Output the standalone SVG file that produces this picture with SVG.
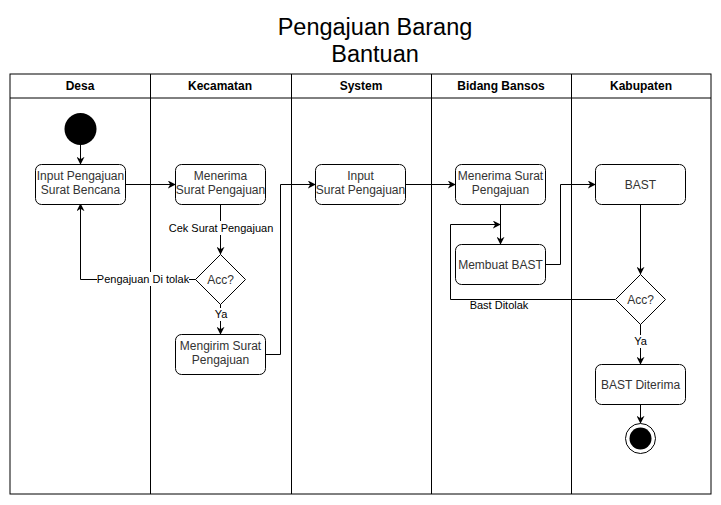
<svg xmlns="http://www.w3.org/2000/svg" width="721" height="505" viewBox="0 0 721 505">
<style>
.t{font-family:"Liberation Sans",Arial,sans-serif;fill:#000}
.title{font-size:23.5px;text-anchor:middle}
.hd{font-size:12px;font-weight:bold;text-anchor:middle}
.nt{font-size:12px;text-anchor:middle;fill:#333}
.lb{font-size:11px;text-anchor:middle}
.box{fill:#fff;stroke:#000;stroke-width:1}
.ln{fill:none;stroke:#000;stroke-width:1}
.c{fill:none;stroke:#000;stroke-width:1}
.bg{fill:#fff}
</style>
<defs>
<marker id="a" viewBox="0 0 10 10" refX="9" refY="5" markerWidth="8" markerHeight="8" markerUnits="userSpaceOnUse" orient="auto">
<path d="M0,0 L10,5 L0,10 L3,5 Z" fill="#000"/>
</marker>
</defs>
<rect width="721" height="505" fill="#fff"/>
<g id="title">
<text class="t title" x="375" y="35">Pengajuan Barang</text>
<text class="t title" x="375" y="62">Bantuan</text>
</g>
<g id="pool">
<rect class="ln" x="10" y="74" width="701" height="420"/>
<line class="ln" x1="10" y1="98" x2="711" y2="98"/>
<line class="ln" x1="150.5" y1="74" x2="150.5" y2="494"/>
<line class="ln" x1="291.5" y1="74" x2="291.5" y2="494"/>
<line class="ln" x1="431.5" y1="74" x2="431.5" y2="494"/>
<line class="ln" x1="571.5" y1="74" x2="571.5" y2="494"/>
<text class="t hd" x="80" y="90">Desa</text>
<text class="t hd" x="220" y="90">Kecamatan</text>
<text class="t hd" x="361" y="90">System</text>
<text class="t hd" x="501" y="90">Bidang Bansos</text>
<text class="t hd" x="641" y="90">Kabupaten</text>
</g>
<g id="connectors">
<path class="c" d="M80.5,145 L80.5,164" marker-end="url(#a)"/>
<path class="c" d="M125,184.5 L175,184.5" marker-end="url(#a)"/>
<path class="c" d="M220.5,204 L220.5,254" marker-end="url(#a)"/>
<path class="c" d="M220.5,304 L220.5,334" marker-end="url(#a)"/>
<path class="c" d="M196,279.5 L80.5,279.5 L80.5,204" marker-end="url(#a)"/>
<path class="c" d="M265,354.5 L280.5,354.5 L280.5,184.5 L315,184.5" marker-end="url(#a)"/>
<path class="c" d="M405,184.5 L455,184.5" marker-end="url(#a)"/>
<path class="c" d="M500.5,204 L500.5,244" marker-end="url(#a)"/>
<path class="c" d="M545,264.5 L560.5,264.5 L560.5,184.5 L595,184.5" marker-end="url(#a)"/>
<path class="c" d="M640.5,204 L640.5,274" marker-end="url(#a)"/>
<path class="c" d="M615,299.5 L450.5,299.5 L450.5,224.5 L500,224.5" marker-end="url(#a)"/>
<path class="c" d="M640.5,324 L640.5,364" marker-end="url(#a)"/>
<path class="c" d="M640.5,404 L640.5,423" marker-end="url(#a)"/>
<rect class="bg" x="169" y="221" width="104" height="14"/>
<text class="t lb" x="221" y="232">Cek Surat Pengajuan</text>
<rect class="bg" x="97" y="272" width="92" height="14"/>
<text class="t lb" x="143" y="283">Pengajuan Di tolak</text>
<rect class="bg" x="212" y="308" width="18" height="13"/>
<text class="t lb" x="221" y="318">Ya</text>
<rect class="bg" x="469" y="300" width="61" height="12"/>
<text class="t lb" x="499" y="309">Bast Ditolak</text>
<rect class="bg" x="632" y="335" width="18" height="13"/>
<text class="t lb" x="640.5" y="345">Ya</text>
</g>
<g id="start"><circle cx="80.5" cy="129" r="16" fill="#000"/></g>
<g id="input-pengajuan">
<rect class="box" x="35.5" y="164.5" width="90" height="40" rx="6"/>
<text class="t nt" x="80.5" y="180">Input Pengajuan</text>
<text class="t nt" x="80.5" y="194">Surat Bencana</text>
</g>
<g id="menerima-kec">
<rect class="box" x="175.5" y="164.5" width="90" height="40" rx="6"/>
<text class="t nt" x="220.5" y="180">Menerima</text>
<text class="t nt" x="220.5" y="194">Surat Pengajuan</text>
</g>
<g id="acc-kec">
<path class="box" d="M220.5,254.5 L245.5,279.5 L220.5,304.5 L195.5,279.5 Z"/>
<text class="t nt" x="220.5" y="284">Acc?</text>
</g>
<g id="mengirim">
<rect class="box" x="175.5" y="334.5" width="90" height="40" rx="6"/>
<text class="t nt" x="220.5" y="350">Mengirim Surat</text>
<text class="t nt" x="220.5" y="364">Pengajuan</text>
</g>
<g id="input-system">
<rect class="box" x="315.5" y="164.5" width="90" height="40" rx="6"/>
<text class="t nt" x="360.5" y="180">Input</text>
<text class="t nt" x="360.5" y="194">Surat Pengajuan</text>
</g>
<g id="menerima-bidang">
<rect class="box" x="455.5" y="164.5" width="90" height="40" rx="6"/>
<text class="t nt" x="500.5" y="180">Menerima Surat</text>
<text class="t nt" x="500.5" y="194">Pengajuan</text>
</g>
<g id="membuat-bast">
<rect class="box" x="455.5" y="244.5" width="90" height="40" rx="6"/>
<text class="t nt" x="500.5" y="269">Membuat BAST</text>
</g>
<g id="bast">
<rect class="box" x="595.5" y="164.5" width="90" height="40" rx="6"/>
<text class="t nt" x="640.5" y="189">BAST</text>
</g>
<g id="acc-kab">
<path class="box" d="M640.5,274.5 L665.5,299.5 L640.5,324.5 L615.5,299.5 Z"/>
<text class="t nt" x="640.5" y="304">Acc?</text>
</g>
<g id="bast-diterima">
<rect class="box" x="595.5" y="364.5" width="90" height="40" rx="6"/>
<text class="t nt" x="640.5" y="389">BAST Diterima</text>
</g>
<g id="end">
<circle cx="640.5" cy="438.5" r="15" fill="#fff" stroke="#000" stroke-width="1"/>
<circle cx="640.5" cy="438.5" r="11" fill="#000"/>
</g>
</svg>
